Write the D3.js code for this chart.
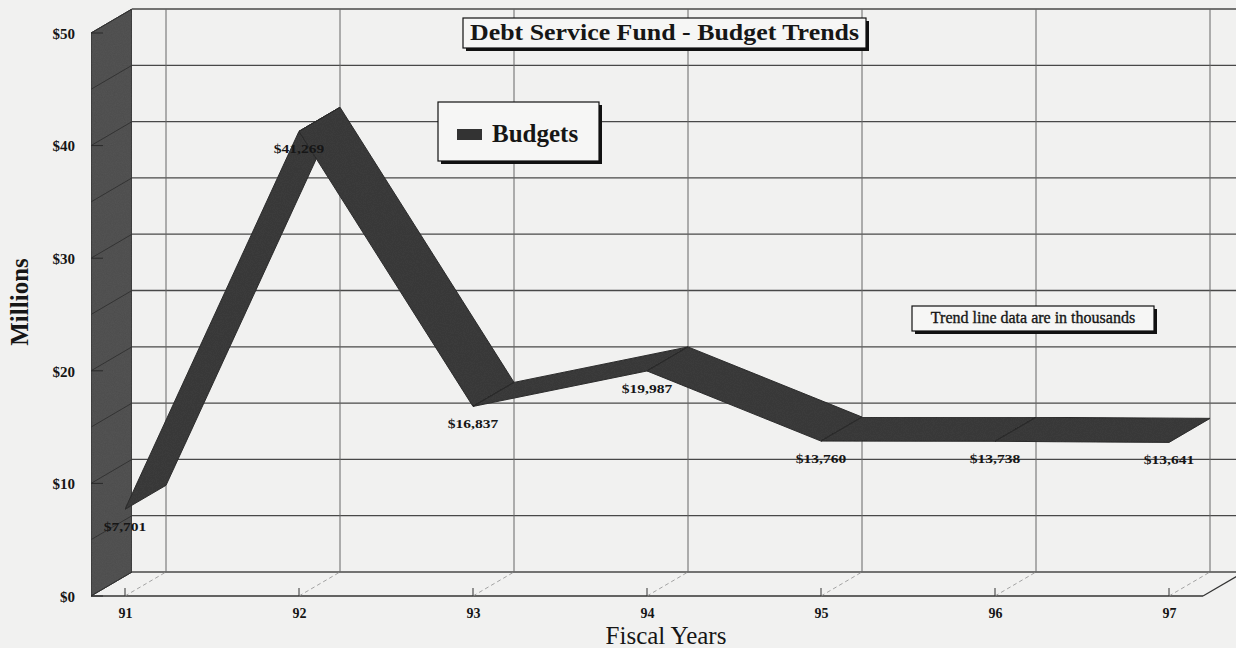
<!DOCTYPE html>
<html>
<head>
<meta charset="utf-8">
<script src="https://cdn.jsdelivr.net/npm/d3@7"></script>
<style>
  html, body { margin: 0; padding: 0; background: #f1f1f0; }
  svg { display: block; }
  text { font-family: "Liberation Serif", "Times New Roman", serif; fill: #161616; }
</style>
</head>
<body>
<svg id="chart" width="1236" height="648"></svg>
<script>
// Fiscal years and budget totals (in thousands of dollars)
const years = ["91", "92", "93", "94", "95", "96", "97"];
const budgets = [7701, 41269, 16837, 19987, 13760, 13738, 13641];
const yTicks = [0, 10000, 20000, 30000, 40000, 50000];
const gridStep = 5000;
const seriesName = "Budgets";
const titleText = "Debt Service Fund - Budget Trends";
const noteText = "Trend line data are in thousands";

const W = 1236, H = 648;
const DX = 41, DY = -24;          // depth offset of the back plane
const svg = d3.select("#chart");

const x = d3.scalePoint().domain(years).range([125, 1169]);
const y = d3.scaleLinear().domain([0, 50000]).range([596, 33]);
const pad = 34;
const xL = x(years[0]) - pad, xR = x(years[years.length - 1]) + pad;
const y0 = y(0), yTop = y(50000);

const wallFill = "#555555";
const ribbonFill = "#3c3c3c";

// grain texture for the dark surfaces
const defs = svg.append("defs");
const f = defs.append("filter").attr("id", "grain").attr("x", 0).attr("y", 0).attr("width", 1).attr("height", 1);
f.append("feTurbulence").attr("type", "fractalNoise").attr("baseFrequency", 0.9).attr("numOctaves", 2).attr("seed", 3).attr("result", "n");
f.append("feColorMatrix").attr("in", "n").attr("type", "matrix")
  .attr("values", "0 0 0 0 0  0 0 0 0 0  0 0 0 0 0  0 0 0 0.18 0").attr("result", "na");
f.append("feComposite").attr("in", "na").attr("in2", "SourceGraphic").attr("operator", "in").attr("result", "nb");
f.append("feMerge").call(m => { m.append("feMergeNode").attr("in", "SourceGraphic"); m.append("feMergeNode").attr("in", "nb"); });

const line = (g, x1, y1, x2, y2, stroke, sw, dash) => g.append("line")
  .attr("x1", x1).attr("y1", y1).attr("x2", x2).attr("y2", y2)
  .attr("stroke", stroke).attr("stroke-width", sw).attr("stroke-dasharray", dash || null);

// ---- back wall grid ----
const grid = svg.append("g");
d3.range(0, 50001, gridStep).forEach(v => {
  line(grid, xL + DX, y(v) + DY, W, y(v) + DY, "#484848", 1.3);
});
years.forEach(yr => {
  line(grid, x(yr) + DX, y0 + DY, x(yr) + DX, yTop + DY, "#676767", 1);
});

// ---- floor ----
const floor = svg.append("g");
line(floor, xL, y0, xR, y0, "#333", 1.4);
line(floor, xR, y0, xR + DX, y0 + DY, "#333", 1.2);
years.forEach(yr => {
  line(floor, x(yr), y0, x(yr) + DX, y0 + DY, "#9a9a9a", 0.9, "4,3");
  line(floor, x(yr), y0, x(yr), y0 - 8, "#333", 1);
});

// ---- left wall ----
const wall = svg.append("g");
wall.append("polygon")
  .attr("points", [[xL, y0], [xL, yTop], [xL + DX, yTop + DY], [xL + DX, y0 + DY]].map(p => p.join(",")).join(" "))
  .attr("fill", wallFill).attr("stroke", "#333").attr("stroke-width", 1)
  .attr("filter", "url(#grain)");
d3.range(0, 50001, gridStep).forEach(v => {
  line(wall, xL, y(v), xL + DX, y(v) + DY, "#333", 1);
});
yTicks.forEach(v => line(wall, xL, y(v), xL + 12, y(v), "#2a2a2a", 1));

// ---- y axis labels ----
const yAxis = d3.axisLeft(y).tickValues(yTicks).tickSize(0).tickPadding(0)
  .tickFormat(d => "$" + d / 1000);
svg.append("g").attr("transform", `translate(${xL - 16},0)`).call(yAxis)
  .call(g => g.select(".domain").remove())
  .selectAll("text").attr("font-family", "Liberation Serif").attr("font-weight", "bold")
  .attr("font-size", 15).attr("fill", "#161616").attr("dy", "0.35em");

// ---- x axis labels ----
const xAxis = d3.axisBottom(x).tickSize(0).tickPadding(0);
svg.append("g").attr("transform", `translate(0,${y0 + 22})`).call(xAxis)
  .call(g => g.select(".domain").remove())
  .selectAll("text").attr("font-family", "Liberation Serif").attr("font-weight", "bold")
  .attr("font-size", 14).attr("fill", "#161616").attr("dy", "0");

// ---- ribbon ----
const pts = budgets.map((v, i) => ({ f: [x(years[i]), y(v)], b: [x(years[i]) + DX, y(v) + DY], v }));
const rib = svg.append("g");
for (let i = 0; i < pts.length - 1; i++) {
  const a = pts[i], c = pts[i + 1];
  rib.append("polygon")
    .attr("points", [a.f, c.f, c.b, a.b].map(p => p.join(",")).join(" "))
    .attr("fill", ribbonFill).attr("stroke", "#303030").attr("stroke-width", 1)
    .attr("stroke-linejoin", "round")
    .attr("filter", "url(#grain)");
}
pts.slice(1, -1).forEach(p => line(rib, p.f[0], p.f[1], p.b[0], p.b[1], "#2a2a2a", 0.8));

// ---- value labels ----
const fmt = d3.format(",");
svg.append("g").selectAll("text").data(pts).join("text")
  .attr("transform", d => `translate(${d.f[0]},${d.f[1] + 22}) scale(1.15,1)`)
  .attr("text-anchor", "middle").attr("font-weight", "bold").attr("font-size", 13.5)
  .attr("fill", "#111")
  .text(d => "$" + fmt(d.v));

// ---- boxes with drop shadows ----
function shadowBox(x0, y0b, w, h) {
  const g = svg.append("g");
  g.append("rect").attr("x", x0 + 3).attr("y", y0b + 3).attr("width", w).attr("height", h).attr("fill", "#111");
  g.append("rect").attr("x", x0).attr("y", y0b).attr("width", w).attr("height", h)
    .attr("fill", "#f6f6f5").attr("stroke", "#111").attr("stroke-width", 1.2);
  return g;
}

const tg = shadowBox(463, 18, 403, 30);
tg.append("text").attr("x", 664.5).attr("y", 40).attr("text-anchor", "middle")
  .attr("font-weight", "bold").attr("font-size", 23)
  .attr("textLength", 389).attr("lengthAdjust", "spacingAndGlyphs")
  .text(titleText);

const lg = shadowBox(438, 102, 161, 59);
lg.append("rect").attr("x", 457).attr("y", 129).attr("width", 25).attr("height", 11).attr("fill", "#333");
lg.append("text").attr("x", 492).attr("y", 142).attr("font-weight", "bold").attr("font-size", 25).text(seriesName);

const ng = shadowBox(912, 306, 242, 25);
ng.append("text").attr("x", 1033).attr("y", 323).attr("text-anchor", "middle")
  .attr("font-size", 16).attr("stroke", "#161616").attr("stroke-width", 0.35).text(noteText);

// ---- axis titles ----
svg.append("text").attr("transform", "translate(28,302) rotate(-90)")
  .attr("text-anchor", "middle").attr("font-weight", "bold").attr("font-size", 25).text("Millions");
svg.append("text").attr("x", 666).attr("y", 644).attr("text-anchor", "middle")
  .attr("font-size", 25).text("Fiscal Years");
</script>
</body>
</html>
